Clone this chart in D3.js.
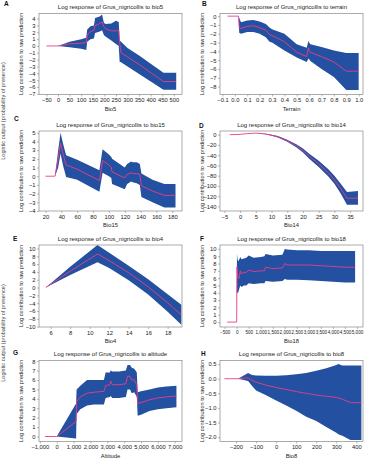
<!DOCTYPE html>
<html>
<head>
<meta charset="utf-8">
<script src="https://cdn.jsdelivr.net/npm/d3@7"></script>
<style>
  body { margin: 0; background: #fff; }
  svg { display: block; font-family: "Liberation Sans", Arial, sans-serif; }
</style>
</head>
<body>
<svg width="365" height="460"></svg>
<script>
// A: bio5
const aX     = [-50, 0, 50, 100, 122, 126, 140, 155, 160, 170, 180, 190, 198, 205, 230, 250, 262, 266, 272, 300, 350, 400, 455, 510];
const aMean  = [0, 0, 0.3, 0.4, 0.5, 1.6, 2.1, 2.3, 3.0, 3.1, 3.3, 3.5, 2.8, 2.5, 2.2, 2.2, 2.3, 0.5, -1.0, -1.6, -2.7, -3.9, -5.2, -5.2];
const aUpper = [0, 0, 0.6, 1.0, 1.2, 2.4, 2.9, 3.0, 4.1, 4.2, 4.3, 4.6, 3.4, 3.2, 3.3, 3.7, 3.5, 0.8, 0.6, -0.3, -1.4, -2.6, -3.9, -3.9];
const aLower = [0, 0, -0.2, -0.4, -0.6, 0.6, 1.0, 1.1, 1.9, 2.0, 2.1, 2.3, 1.6, 1.4, 0.8, 0.3, 0.0, -2.3, -2.4, -3.0, -4.1, -5.2, -6.4, -6.4];

// B: terrain
const bX     = [-0.06, 0.03, 0.035, 0.05, 0.1, 0.15, 0.2, 0.25, 0.28, 0.3, 0.4, 0.5, 0.58, 0.595, 0.6, 0.61, 0.7, 0.8, 0.9, 1.0];
const bMean  = [0, 0, -1.3, -1.4, -1.15, -1.1, -1.3, -1.6, -2.1, -2.2, -2.9, -4.1, -4.6, -3.6, -3.9, -4.1, -4.6, -5.2, -6.25, -6.25];
const bUpper = [0, 0, -0.2, -0.7, -0.5, -0.45, -0.6, -0.9, -1.3, -1.5, -2.0, -3.2, -3.6, -2.8, -3.0, -3.2, -3.5, -3.9, -4.2, -4.2];
const bLower = [0, 0, -1.9, -2.0, -1.8, -1.8, -2.0, -2.4, -2.9, -3.0, -3.9, -4.7, -5.2, -4.8, -4.9, -5.1, -6.0, -6.9, -8.4, -8.4];

// C: bio15
const cX     = [20, 32, 36, 39, 42, 46, 60, 88, 92, 100, 103, 104, 120, 123, 128, 130, 135, 139, 141, 155, 170, 184];
const cMean  = [0, 0, 2.0, 3.8, 2.6, 1.3, 0.8, -0.5, 1.8, 1.3, 1.0, 0.5, -0.2, 0.2, 0.4, 0.3, 0.3, 0.2, -1.1, -1.7, -2.2, -2.2];
const cUpper = [0, 0, 3.0, 5.0, 3.8, 2.4, 1.9, 0.7, 3.1, 2.5, 2.2, 2.0, 1.0, 1.4, 1.7, 1.6, 1.6, 1.4, 0.3, -0.4, -0.9, -0.9];
const cLower = [0, 0, 1.0, 2.6, 1.3, -0.1, -0.4, -1.8, 0.4, 0.0, -0.2, -0.9, -1.5, -0.9, -0.6, -0.7, -0.8, -1.0, -2.4, -3.0, -3.6, -3.6];

// D: bio14
const dX     = [-3.3, 0, 2, 5, 8, 10, 12, 15, 18, 20, 22, 25, 28, 30, 32, 34, 37.5];
const dMean  = [0, 0.5, 2, 3, 1.5, -1, -4, -12, -22, -31, -42, -57, -74, -88, -105, -124, -124];
const dUpper = [0, 0.5, 2, 3, 2, 0, -2.5, -10, -19, -27, -37, -51, -67, -80, -96, -112, -110];
const dLower = [0, 0.5, 2, 3, 1, -2, -5.5, -14, -25, -35, -47, -63, -81, -96, -115, -137, -137];

// E: bio4
const eX     = [5.5, 8, 10.8, 12, 14, 16, 18, 19.4];
const eMean  = [0, 4.2, 8.6, 6.9, 3.8, 0.2, -3.9, -7.0];
const eUpper = [0, 5.3, 10.9, 8.9, 5.6, 2.1, -1.7, -4.4];
const eLower = [0, 3.2, 6.5, 5.0, 1.9, -1.8, -6.2, -9.5];

// F: bio18
const fX     = [-400, 0, 10, 40, 60, 100, 150, 200, 300, 400, 500, 700, 1000, 1150, 1200, 1500, 1900, 2000, 2100, 2500, 3000, 3500, 4000, 4500, 4920];
const fMean  = [0, 0, 7.5, 6.2, 6.0, 6.0, 7.0, 6.6, 6.8, 6.8, 7.1, 6.9, 7.0, 7.0, 7.5, 7.3, 7.4, 8.0, 7.8, 7.8, 7.8, 7.7, 7.6, 7.5, 7.5];
const fUpper = [0, 0, 9.3, 8.5, 8.3, 8.5, 8.9, 8.6, 8.7, 8.8, 9.1, 8.8, 8.9, 9.0, 9.3, 9.1, 9.2, 10.0, 9.9, 9.8, 9.8, 9.7, 9.7, 9.7, 9.7];
const fLower = [0, 0, 4.0, 4.0, 4.0, 4.5, 5.0, 4.8, 5.0, 5.0, 5.3, 5.2, 5.3, 5.3, 5.6, 5.5, 5.6, 5.9, 5.8, 5.8, 5.7, 5.6, 5.5, 5.4, 5.4];

// G: altitude
const gX     = [-700, 0, 1150, 1180, 1400, 1800, 2200, 2800, 2900, 3150, 3200, 3300, 3700, 4100, 4200, 4350, 4450, 4600, 4750, 4800, 5000, 5500, 6000, 6500, 7100];
const gMean  = [0, 0, 1.6, 3.7, 4.2, 4.6, 4.7, 4.8, 5.4, 5.5, 5.9, 5.5, 5.5, 5.6, 6.4, 6.4, 6.0, 6.0, 5.5, 3.5, 3.6, 3.9, 4.1, 4.2, 4.3];
const gUpper = [0, 0, 3.5, 5.0, 5.4, 6.0, 6.0, 6.0, 6.8, 6.8, 7.0, 6.9, 6.9, 7.0, 7.6, 7.6, 7.3, 7.2, 6.8, 4.7, 4.8, 5.0, 5.2, 5.3, 5.4];
const gLower = [0, 0, -0.2, 2.4, 2.9, 3.3, 3.4, 3.4, 4.1, 4.2, 4.3, 4.1, 4.1, 4.2, 5.0, 5.0, 4.6, 4.7, 4.2, 2.2, 2.3, 2.7, 2.9, 3.0, 3.1];

// H: bio8
const hX     = [-258, -190, -140, -120, -100, -50, 0, 50, 100, 150, 200, 250, 300, 310, 330, 370, 425];
const hMean  = [0, 0, 0.03, -0.05, -0.12, -0.22, -0.3, -0.37, -0.44, -0.5, -0.56, -0.6, -0.64, -0.66, -0.7, -0.82, -0.82];
const hUpper = [0, 0, 0.2, 0.13, 0.11, 0.1, 0.1, 0.12, 0.15, 0.2, 0.27, 0.36, 0.47, 0.5, 0.45, 0.45, 0.45];
const hLower = [0, 0, -0.08, -0.25, -0.4, -0.57, -0.75, -0.92, -1.1, -1.3, -1.45, -1.65, -1.85, -1.9, -1.95, -2.1, -2.1];

// tick values
const aXTicks = d3.range(-50, 501, 50),   aYTicks = d3.range(-7, 5, 1);
const bXTicks = d3.range(-1, 11).map(d => d / 10), bYTicks = d3.range(-8, 1, 1);
const cXTicks = d3.range(20, 181, 20),    cYTicks = d3.range(-4, 6, 1);
const dXTicks = d3.range(-5, 36, 5),      dYTicks = d3.range(-140, 1, 20);
const eXTicks = d3.range(6, 19, 2),       eYTicks = d3.range(-10, 11, 2);
const fXTicks = d3.range(-500, 5001, 500), fYTicks = d3.range(0, 11, 1);
const gXTicks = d3.range(-1000, 7001, 1000), gYTicks = d3.range(0, 9, 1);
const hXTicks = d3.range(-200, 401, 100), hYTicks = [-2, -1.5, -1, -0.5, 0, 0.5];

const colLeft = [39, 220], colRight = [182, 363];
const rowTop = [13.5, 131, 245, 360.5], rowBottom = [94.5, 211, 327, 441.5];
const intF = d3.format("d"), oneF = d3.format(".1f"), comF = d3.format(",");

const panels = [
  {letter: "A", lx: 4,   ly: 6,   col: 0, row: 0, v: "bio5",     label: "Bio5",     x: aX, m: aMean, u: aUpper, l: aLower, xd: [-82, 535],   yd: [-7.1, 4.75], xt: aXTicks, yt: aYTicks, xf: intF, yf: intF},
  {letter: "B", lx: 202, ly: 6,   col: 1, row: 0, v: "terrain",  label: "Terrain",  x: bX, m: bMean, u: bUpper, l: bLower, xd: [-0.12, 1.035], yd: [-8.9, 0.3], xt: bXTicks, yt: bYTicks, xf: oneF, yf: intF},
  {letter: "C", lx: 14,  ly: 121, col: 0, row: 1, v: "bio15",    label: "Bio15",    x: cX, m: cMean, u: cUpper, l: cLower, xd: [11.8, 192.2], yd: [-4, 5.2],    xt: cXTicks, yt: cYTicks, xf: intF, yf: intF},
  {letter: "D", lx: 199, ly: 128, col: 1, row: 1, v: "bio14",    label: "Bio14",    x: dX, m: dMean, u: dUpper, l: dLower, xd: [-6.4, 39.1],  yd: [-149, 7.2],  xt: dXTicks, yt: dYTicks, xf: intF, yf: intF},
  {letter: "E", lx: 13,  ly: 241, col: 0, row: 2, v: "bio4",     label: "Bio4",     x: eX, m: eMean, u: eUpper, l: eLower, xd: [4.8, 19.47],  yd: [-10.1, 10.9], xt: eXTicks, yt: eYTicks, xf: intF, yf: intF},
  {letter: "F", lx: 200, ly: 241, col: 1, row: 2, v: "bio18",    label: "Bio18",    x: fX, m: fMean, u: fUpper, l: fLower, xd: [-694, 5248],  yd: [-0.67, 10.53], xt: fXTicks, yt: fYTicks, xf: comF, yf: intF, xfs: 4.6},
  {letter: "G", lx: 13,  ly: 355, col: 0, row: 3, v: "altitude", label: "Altitude", x: gX, m: gMean, u: gUpper, l: gLower, xd: [-1050, 7430], yd: [-0.53, 8.07], xt: gXTicks, yt: gYTicks, xf: comF, yf: intF},
  {letter: "H", lx: 201, ly: 356, col: 1, row: 3, v: "bio8",     label: "Bio8",     x: hX, m: hMean, u: hUpper, l: hLower, xd: [-280, 433],   yd: [-2.15, 0.624], xt: hXTicks, yt: hYTicks, xf: intF, yf: oneF}
];

const svg = d3.select("svg");
const blue = "#2350a0", pink = "#ea3d8c", frameCol = "#888", textCol = "#222";

// leftover outer y labels at the left edge
[111, 333].forEach(cy => {
  svg.append("text")
    .attr("transform", `translate(4.5,${cy}) rotate(-90)`)
    .attr("text-anchor", "middle")
    .attr("font-size", 5.6).attr("fill", "#444")
    .text("Logistic output (probability of presence)");
});

panels.forEach((p, i) => {
  const x0 = colLeft[p.col], x1 = colRight[p.col];
  const y0 = rowTop[p.row], y1 = rowBottom[p.row];
  const x = d3.scaleLinear().domain(p.xd).range([x0, x1]);
  const y = d3.scaleLinear().domain(p.yd).range([y1, y0]);
  const g = svg.append("g");

  g.append("clipPath").attr("id", "clip" + i)
    .append("rect").attr("x", x0).attr("y", y0).attr("width", x1 - x0).attr("height", y1 - y0);

  const rows = p.x.map((d, k) => ({x: d, m: p.m[k], u: p.u[k], l: p.l[k]}));
  const plot = g.append("g").attr("clip-path", `url(#clip${i})`);

  plot.append("path").datum(rows)
    .attr("d", d3.area().x(d => x(d.x)).y0(d => y(d.l)).y1(d => y(d.u)))
    .attr("fill", blue);
  plot.append("path").datum(rows)
    .attr("d", d3.line().x(d => x(d.x)).y(d => y(d.m)))
    .attr("fill", "none").attr("stroke", pink).attr("stroke-width", 0.9);

  g.append("rect").attr("x", x0).attr("y", y0).attr("width", x1 - x0).attr("height", y1 - y0)
    .attr("fill", "none").attr("stroke", frameCol).attr("stroke-width", 0.7);

  const xa = g.append("g").attr("transform", `translate(0,${y1})`)
    .call(d3.axisBottom(x).tickValues(p.xt).tickFormat(p.xf).tickSize(2).tickPadding(1.5));
  const ya = g.append("g").attr("transform", `translate(${x0},0)`)
    .call(d3.axisLeft(y).tickValues(p.yt).tickFormat(p.yf).tickSize(2).tickPadding(1.5));
  [xa, ya].forEach(a => {
    a.select(".domain").remove();
    a.selectAll(".tick line").attr("stroke", frameCol).attr("stroke-width", 0.6);
    a.selectAll(".tick text").attr("font-size", 5.8).attr("fill", textCol)
      .attr("font-family", "Liberation Sans, Arial, sans-serif");
  });
  if (p.xfs) xa.selectAll(".tick text").attr("font-size", p.xfs);

  g.append("text").attr("x", (x0 + x1) / 2).attr("y", y0 - 4.5)
    .attr("text-anchor", "middle").attr("font-size", 6).attr("fill", textCol)
    .text(`Log response of Grus_nigricollis to ${p.v}`);
  g.append("text").attr("x", (x0 + x1) / 2).attr("y", y1 + 16)
    .attr("text-anchor", "middle").attr("font-size", 5.8).attr("fill", textCol)
    .text(p.label);
  g.append("text")
    .attr("transform", `translate(${x0 - 16},${(y0 + y1) / 2}) rotate(-90)`)
    .attr("text-anchor", "middle").attr("font-size", 5.6).attr("fill", textCol)
    .text("Log contribution to raw prediction");
  g.append("text").attr("x", p.lx).attr("y", p.ly)
    .attr("font-size", 6.5).attr("font-weight", "bold").attr("fill", "#111")
    .text(p.letter);
});
</script>
</body>
</html>
